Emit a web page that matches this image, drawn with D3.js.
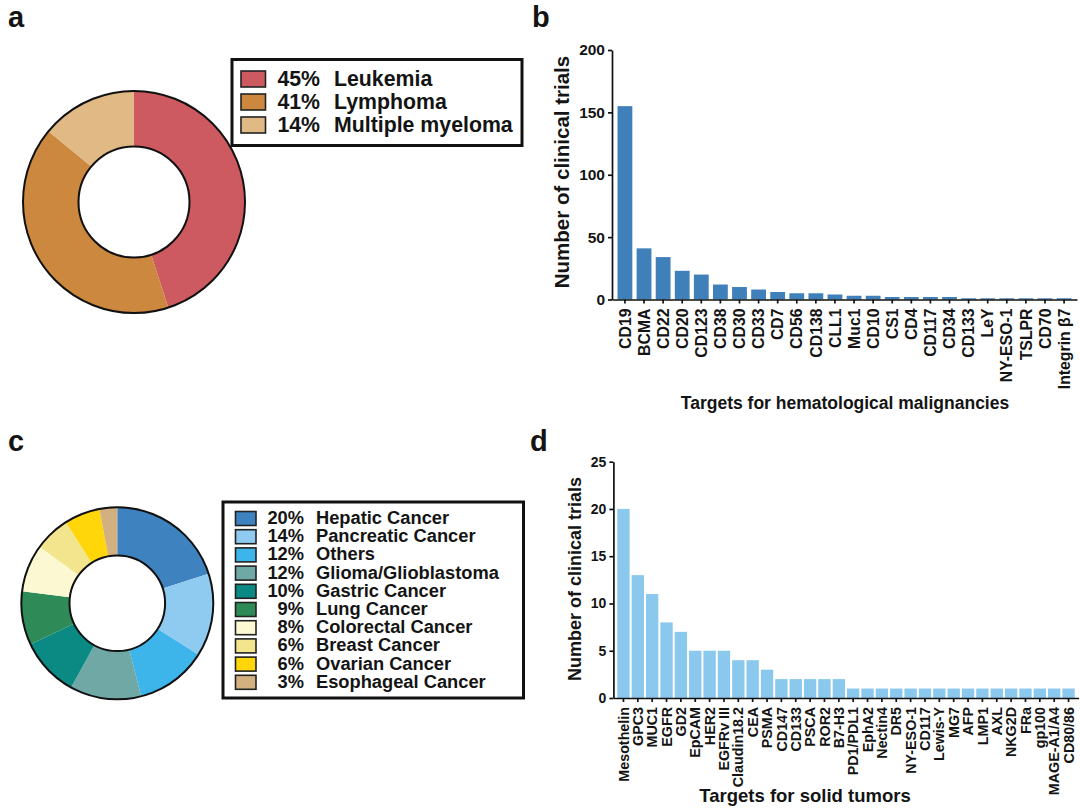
<!DOCTYPE html>
<html>
<head>
<meta charset="utf-8">
<script src="https://d3js.org/d3.v7.min.js"></script>
<style>
body { margin: 0; background: #fff; }
text { font-family: "Liberation Sans", Arial, sans-serif; font-weight: bold; fill: #141414; }
</style>
</head>
<body>
<div id="svg"></div>
<script>
var bloodTypes = ['Leukemia', 'Lymphoma', 'Multiple myeloma'];
var bloodShares = [45, 41, 14];
var bloodColors = ['#cd5a60', '#cc883f', '#e0b985'];

var solidTypes = ['Hepatic Cancer', 'Pancreatic Cancer', 'Others', 'Glioma/Glioblastoma', 'Gastric Cancer',
    'Lung Cancer', 'Colorectal Cancer', 'Breast Cancer', 'Ovarian Cancer', 'Esophageal Cancer'];
var solidShares = [20, 14, 12, 12, 10, 9, 8, 6, 6, 3];
var solidColors = ['#3f82c0', '#8fcbf0', '#3db4ea', '#6fa8a5', '#0a8a82', '#2e8b57', '#fbf8d2', '#f2e58e', '#ffd60a', '#d2b080'];

var bloodTargets = ['CD19', 'BCMA', 'CD22', 'CD20', 'CD123', 'CD38', 'CD30', 'CD33', 'CD7', 'CD56', 'CD138', 'CLL1',
    'Muc1', 'CD10', 'CS1', 'CD4', 'CD117', 'CD34', 'CD133', 'LeY', 'NY-ESO-1', 'TSLPR', 'CD70', 'Integrin β7'];
var bloodTrials = [155, 41, 34, 23, 20, 12, 10, 8, 6, 5, 5, 4, 3, 3, 2, 2, 2, 2, 1, 1, 1, 1, 1, 1];
var bloodTicks = [0, 50, 100, 150, 200];

var solidTargets = ['Mesothelin', 'GPC3', 'MUC1', 'EGFR', 'GD2', 'EpCAM', 'HER2', 'EGFRv III', 'Claudin18.2', 'CEA', 'PSMA',
    'CD147', 'CD133', 'PSCA', 'ROR2', 'B7-H3', 'PD1/PDL1', 'EphA2', 'Nectin4', 'DR5', 'NY-ESO-1', 'CD117', 'Lewis-Y',
    'MG7', 'AFP', 'LMP1', 'AXL', 'NKG2D', 'FRa', 'gp100', 'MAGE-A1/A4', 'CD80/86'];
var solidTrials = [20, 13, 11, 8, 7, 5, 5, 5, 4, 4, 3, 2, 2, 2, 2, 2, 1, 1, 1, 1, 1, 1, 1, 1, 1, 1, 1, 1, 1, 1, 1, 1];
var solidTicks = [0, 5, 10, 15, 20, 25];

var svg = d3.select('#svg').append('svg').attr('width', 1080).attr('height', 808);

function donut(cx, cy, outer, inner, shares, colors){
    var g = svg.append('g').attr('transform', 'translate(' + cx + ',' + cy + ')');
    var arc = d3.arc().innerRadius(inner).outerRadius(outer);
    g.selectAll('path').data(d3.pie().sort(null)(shares)).enter().append('path')
        .attr('d', arc)
        .attr('fill', function(d, i){ return colors[i]; });
    // only the two rims are outlined, not the slice borders
    [outer, inner].forEach(function(r){
        g.append('circle').attr('r', r).attr('fill', 'none').attr('stroke', '#111').attr('stroke-width', 2);
    });
}

function legend(o, names, shares, colors){
    svg.append('rect')
        .attr('x', o.x).attr('y', o.y).attr('width', o.w).attr('height', o.h)
        .attr('fill', '#fff').attr('stroke', '#111').attr('stroke-width', 3);
    var rows = svg.selectAll(null).data(names).enter().append('g')
        .attr('transform', function(d, i){ return 'translate(0,' + (o.rowY + i * o.rowStep) + ')'; });
    rows.append('rect')
        .attr('x', o.swatchX).attr('y', -o.swatchH / 2).attr('width', o.swatchW).attr('height', o.swatchH)
        .attr('fill', function(d, i){ return colors[i]; })
        .attr('stroke', '#222').attr('stroke-width', 1.6);
    rows.append('text')
        .attr('x', o.pctX).attr('y', o.font * 0.36 - 1)
        .attr('text-anchor', 'end')
        .style('font-size', o.font + 'px')
        .text(function(d, i){ return shares[i] + '%'; });
    rows.append('text')
        .attr('x', o.nameX).attr('y', o.font * 0.36 - 1)
        .style('font-size', o.font + 'px')
        .text(function(d){ return d; });
}

function bars(o, targets, trials, ticks, color){
    var x = d3.scaleBand().domain(targets).range([o.left, o.right]).paddingInner(o.padIn).paddingOuter(o.padOut);
    var y = d3.scaleLinear().domain([0, ticks[ticks.length - 1]]).range([o.bottom, o.top]);

    svg.append('g').selectAll('rect').data(trials).enter().append('rect')
        .attr('x', function(d, i){ return x(targets[i]); })
        .attr('y', function(d){ return y(d); })
        .attr('width', x.bandwidth())
        .attr('height', function(d){ return y(0) - y(d); })
        .attr('fill', color);

    var yAxis = svg.append('g').attr('transform', 'translate(' + o.left + ',0)')
        .call(d3.axisLeft(y).tickValues(ticks).tickSize(4).tickPadding(3).tickSizeOuter(0));
    yAxis.selectAll('text').style('font-size', o.yFont + 'px');

    var xAxis = svg.append('g').attr('transform', 'translate(0,' + o.bottom + ')')
        .call(d3.axisBottom(x).tickSize(4).tickSizeOuter(0));
    xAxis.selectAll('text')
        .style('font-size', o.xFont + 'px')
        .attr('text-anchor', 'end')
        .attr('transform', 'rotate(-90)')
        .attr('x', -9).attr('y', 0).attr('dy', '0.36em');

    svg.selectAll('.domain, .tick line').attr('stroke', '#111').attr('stroke-width', 1.7);

    svg.append('text')
        .attr('transform', 'translate(' + o.yTitleX + ',' + o.yTitleY + ') rotate(-90)')
        .attr('text-anchor', 'middle')
        .style('font-size', o.yTitleFont + 'px')
        .text('Number of clinical trials');
    svg.append('text')
        .attr('x', o.xTitleX).attr('y', o.xTitleY)
        .attr('text-anchor', 'middle')
        .style('font-size', o.xTitleFont + 'px')
        .text(o.xTitle);
}

donut(134, 202, 111, 55.5, bloodShares, bloodColors);
legend({x: 232, y: 59.5, w: 290, h: 86, rowY: 79, rowStep: 23, swatchX: 241, swatchW: 24.5, swatchH: 16,
    pctX: 320, nameX: 334, font: 21.3}, bloodTypes, bloodShares, bloodColors);

donut(117.3, 603.3, 96, 47.8, solidShares, solidColors);
legend({x: 223, y: 502, w: 300.5, h: 196, rowY: 518.5, rowStep: 18.2, swatchX: 235.5, swatchW: 20.5, swatchH: 14,
    pctX: 304, nameX: 316, font: 18.3}, solidTypes, solidShares, solidColors);

bars({left: 612, right: 1077, top: 50, bottom: 299.5, padIn: 0.225, padOut: 0.29,
    yFont: 15.5, xFont: 15.8, yTitleX: 569, yTitleY: 172, yTitleFont: 20.5,
    xTitle: 'Targets for hematological malignancies', xTitleX: 845, xTitleY: 409, xTitleFont: 17.5},
    bloodTargets, bloodTrials, bloodTicks, '#3f7fba');

bars({left: 613.4, right: 1078.6, top: 461.7, bottom: 698, padIn: 0.14, padOut: 0.27,
    yFont: 14, xFont: 14.3, yTitleX: 581, yTitleY: 579, yTitleFont: 18,
    xTitle: 'Targets for solid tumors', xTitleX: 805, xTitleY: 802, xTitleFont: 18.5},
    solidTargets, solidTrials, solidTicks, '#8bc8ee');

var panelLetters = ['a', 'b', 'c', 'd'];
var panelX = [8, 532, 8, 530];
var panelY = [27, 27, 451, 451];
svg.selectAll('.panel').data(panelLetters).enter().append('text')
    .attr('class', 'panel')
    .attr('x', function(d, i){ return panelX[i]; })
    .attr('y', function(d, i){ return panelY[i]; })
    .style('font-size', '29px')
    .text(function(d){ return d; });
</script>
</body>
</html>
